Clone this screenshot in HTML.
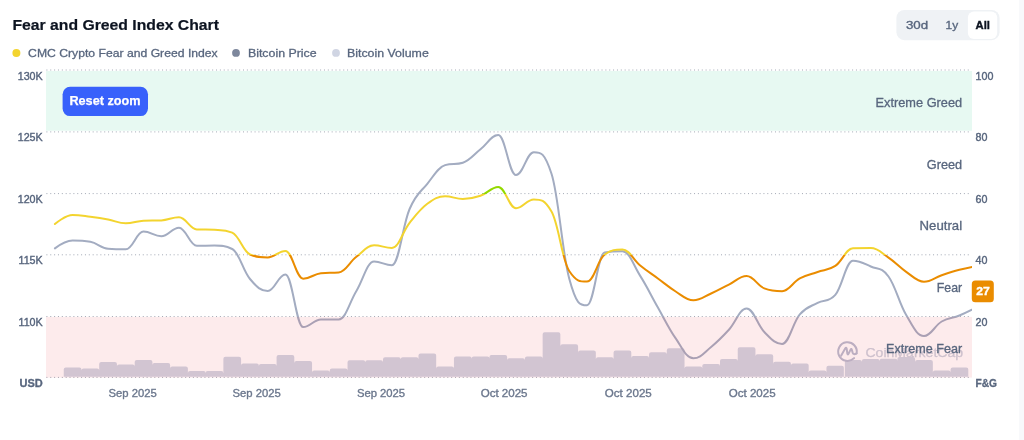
<!DOCTYPE html>
<html><head><meta charset="utf-8"><style>
html,body{margin:0;padding:0;background:#fff;width:1024px;height:440px;overflow:hidden;position:relative;font-family:"Liberation Sans",Arial,sans-serif}
.strip{position:absolute;left:1019px;top:0;width:5px;height:440px;background:#F8F9FB}
</style></head><body>
<svg width="1024" height="440" viewBox="0 0 1024 440" style="position:absolute;left:0;top:0;will-change:transform;font-family:&quot;Liberation Sans&quot;,Arial,sans-serif">
<defs>
<clipPath id="pc"><rect x="46" y="60" width="926" height="318"/></clipPath>
<linearGradient id="fgc" gradientUnits="userSpaceOnUse" x1="0" y1="70" x2="0" y2="377.4">
<stop offset="0" stop-color="#16C784"/>
<stop offset="0.2014" stop-color="#16C784"/>
<stop offset="0.2014" stop-color="#93D900"/>
<stop offset="0.4021" stop-color="#93D900"/>
<stop offset="0.4021" stop-color="#F3D42F"/>
<stop offset="0.6012" stop-color="#F3D42F"/>
<stop offset="0.6012" stop-color="#EA8C00"/>
<stop offset="0.8019" stop-color="#EA8C00"/>
<stop offset="0.8019" stop-color="#EA3943"/>
<stop offset="1" stop-color="#EA3943"/>
</linearGradient>
</defs>
<g stroke="#A3A9B5" stroke-width="1" stroke-dasharray="1 2.855">
<line x1="46.4" x2="970" y1="70.0" y2="70.0"/><line x1="46.4" x2="970" y1="131.9" y2="131.9"/><line x1="46.4" x2="970" y1="193.6" y2="193.6"/><line x1="46.4" x2="970" y1="254.8" y2="254.8"/><line x1="46.4" x2="970" y1="316.5" y2="316.5"/><line x1="46.4" x2="970" y1="377.4" y2="377.4"/>
</g>
<path fill="#D0D5E3" clip-path="url(#pc)" d="M63.73 376.7V369.4q0 -2 2 -2h13.74q2 0 2 2V376.7zM81.47 376.7V370.5q0 -2 2 -2h13.74q2 0 2 2V376.7zM99.20 376.7V364.0q0 -2 2 -2h13.74q2 0 2 2V376.7zM116.94 376.7V366.6q0 -2 2 -2h13.74q2 0 2 2V376.7zM134.68 376.7V362.0q0 -2 2 -2h13.74q2 0 2 2V376.7zM152.41 376.7V364.9q0 -2 2 -2h13.74q2 0 2 2V376.7zM170.15 376.7V368.4q0 -2 2 -2h13.74q2 0 2 2V376.7zM187.89 376.7V373.1q0 -2 2 -2h13.74q2 0 2 2V376.7zM205.62 376.7V373.1q0 -2 2 -2h13.74q2 0 2 2V376.7zM223.36 376.7V358.8q0 -2 2 -2h13.74q2 0 2 2V376.7zM241.10 376.7V365.5q0 -2 2 -2h13.74q2 0 2 2V376.7zM258.84 376.7V366.0q0 -2 2 -2h13.74q2 0 2 2V376.7zM276.57 376.7V357.1q0 -2 2 -2h13.74q2 0 2 2V376.7zM294.31 376.7V363.1q0 -2 2 -2h13.74q2 0 2 2V376.7zM312.05 376.7V372.6q0 -2 2 -2h13.74q2 0 2 2V376.7zM329.78 376.7V370.6q0 -2 2 -2h13.74q2 0 2 2V376.7zM347.52 376.7V362.2q0 -2 2 -2h13.74q2 0 2 2V376.7zM365.26 376.7V362.2q0 -2 2 -2h13.74q2 0 2 2V376.7zM382.99 376.7V359.3q0 -2 2 -2h13.74q2 0 2 2V376.7zM400.73 376.7V359.3q0 -2 2 -2h13.74q2 0 2 2V376.7zM418.47 376.7V355.5q0 -2 2 -2h13.74q2 0 2 2V376.7zM436.21 376.7V368.6q0 -2 2 -2h13.74q2 0 2 2V376.7zM453.94 376.7V358.4q0 -2 2 -2h13.74q2 0 2 2V376.7zM471.68 376.7V358.4q0 -2 2 -2h13.74q2 0 2 2V376.7zM489.42 376.7V357.1q0 -2 2 -2h13.74q2 0 2 2V376.7zM507.15 376.7V360.2q0 -2 2 -2h13.74q2 0 2 2V376.7zM524.89 376.7V358.4q0 -2 2 -2h13.74q2 0 2 2V376.7zM542.63 376.7V334.2q0 -2 2 -2h13.74q2 0 2 2V376.7zM560.36 376.7V346.2q0 -2 2 -2h13.74q2 0 2 2V376.7zM578.10 376.7V352.4q0 -2 2 -2h13.74q2 0 2 2V376.7zM595.84 376.7V359.3q0 -2 2 -2h13.74q2 0 2 2V376.7zM613.58 376.7V352.4q0 -2 2 -2h13.74q2 0 2 2V376.7zM631.31 376.7V358.0q0 -2 2 -2h13.74q2 0 2 2V376.7zM649.05 376.7V354.2q0 -2 2 -2h13.74q2 0 2 2V376.7zM666.79 376.7V350.3q0 -2 2 -2h13.74q2 0 2 2V376.7zM684.52 376.7V368.4q0 -2 2 -2h13.74q2 0 2 2V376.7zM702.26 376.7V366.0q0 -2 2 -2h13.74q2 0 2 2V376.7zM720.00 376.7V361.1q0 -2 2 -2h13.74q2 0 2 2V376.7zM737.73 376.7V349.3q0 -2 2 -2h13.74q2 0 2 2V376.7zM755.47 376.7V356.2q0 -2 2 -2h13.74q2 0 2 2V376.7zM773.21 376.7V363.7q0 -2 2 -2h13.74q2 0 2 2V376.7zM790.95 376.7V365.5q0 -2 2 -2h13.74q2 0 2 2V376.7zM808.68 376.7V372.4q0 -2 2 -2h13.74q2 0 2 2V376.7zM826.42 376.7V367.8q0 -2 2 -2h13.44q2 0 2 2V376.7zM844.86 376.7V361.9q0 -2 2 -2h13.04q2 0 2 2V376.7zM861.89 376.7V361.1q0 -2 2 -2h13.74q2 0 2 2V376.7zM879.63 376.7V360.7q0 -2 2 -2h13.74q2 0 2 2V376.7zM897.37 376.7V359.0q0 -2 2 -2h13.74q2 0 2 2V376.7zM915.10 376.7V361.9q0 -2 2 -2h13.74q2 0 2 2V376.7zM932.84 376.7V372.6q0 -2 2 -2h13.74q2 0 2 2V376.7zM950.58 376.7V369.4q0 -2 2 -2h13.74q2 0 2 2V376.7z"/>
<g clip-path="url(#pc)" fill="none" stroke-width="2" stroke-linejoin="round" stroke-linecap="round">
<path d="M54.9 248.4 C54.9 248.4 65.5 240.6 72.6 240.6 C79.7 240.6 83.2 240.6 90.3 241.8 C97.4 243.0 101.0 248.1 108.1 248.7 C115.2 249.3 118.7 249.3 125.8 249.3 C132.9 249.3 136.5 231.6 143.5 231.6 C150.6 231.6 154.2 236.3 161.3 236.3 C168.4 236.3 171.9 227.7 179.0 227.7 C186.1 227.7 189.7 245.8 196.8 245.8 C203.9 245.8 207.4 245.6 214.5 245.6 C221.6 245.6 225.1 245.6 232.2 249.0 C239.3 252.4 242.9 270.6 250.0 279.0 C257.1 287.4 260.6 291.0 267.7 291.0 C274.8 291.0 278.3 274.5 285.4 274.5 C292.5 274.5 296.1 327.1 303.2 327.1 C310.3 327.1 313.8 319.5 320.9 319.5 C328.0 319.5 331.6 319.5 338.7 319.5 C345.7 319.5 349.3 302.6 356.4 291.0 C363.5 279.4 367.0 261.6 374.1 261.6 C381.2 261.6 384.8 265.2 391.9 265.2 C399.0 265.2 402.5 225.3 409.6 209.0 C416.7 192.7 420.2 192.6 427.3 183.8 C434.4 175.0 438.0 167.5 445.1 165.1 C452.2 162.7 455.7 165.1 462.8 162.7 C469.9 160.3 473.5 154.7 480.5 149.2 C487.6 143.7 491.2 135.0 498.3 135.0 C505.4 135.0 508.9 175.1 516.0 175.1 C523.1 175.1 526.7 152.2 533.8 152.2 C540.9 152.2 544.4 152.2 551.5 173.7 C558.6 195.2 562.1 252.2 569.2 278.5 C576.3 304.8 579.9 305.3 587.0 305.3 C594.1 305.3 597.6 253.7 604.7 252.5 C611.8 251.3 615.3 251.3 622.4 251.3 C629.5 251.3 633.1 264.7 640.2 275.9 C647.3 287.1 650.8 295.0 657.9 307.5 C665.0 320.0 668.6 328.2 675.7 338.4 C682.7 348.6 686.3 358.3 693.4 358.3 C700.5 358.3 704.0 352.7 711.1 347.0 C718.2 341.3 721.8 337.5 728.9 329.8 C736.0 322.1 739.5 308.5 746.6 308.5 C753.7 308.5 757.2 324.9 764.3 332.0 C771.4 339.1 775.0 343.9 782.1 343.9 C789.2 343.9 792.7 322.6 799.8 314.4 C806.9 306.2 810.5 306.8 817.6 302.9 C824.6 299.0 828.2 302.9 835.3 294.9 C842.4 286.9 845.9 260.7 853.0 260.7 C860.1 260.7 863.7 263.3 870.8 266.5 C877.9 269.7 881.4 266.8 888.5 276.5 C895.6 286.2 899.1 303.2 906.2 315.1 C913.3 327.0 916.9 336.0 924.0 336.0 C931.1 336.0 934.6 325.6 941.7 321.5 C948.8 317.4 952.4 318.4 959.4 315.5 C966.5 312.6 977.2 307.0 977.2 307.0" stroke="#A3ACC1"/>
<path d="M54.9 224.0 C54.9 224.0 65.5 215.0 72.6 215.0 C79.7 215.0 83.2 215.9 90.3 216.8 C97.4 217.7 101.0 218.2 108.1 219.5 C115.2 220.8 118.7 223.3 125.8 223.3 C132.9 223.3 136.5 221.0 143.5 220.7 C150.6 220.4 154.2 220.7 161.3 220.4 C168.4 220.1 171.9 217.3 179.0 217.3 C186.1 217.3 189.7 229.0 196.8 229.4 C203.9 229.8 207.4 229.4 214.5 229.8 C221.6 230.2 225.1 229.8 232.2 232.6 C239.3 235.4 242.9 251.6 250.0 254.5 C257.1 257.4 260.6 257.4 267.7 257.4 C274.8 257.4 278.3 251.0 285.4 251.0 C292.5 251.0 296.1 278.7 303.2 278.7 C310.3 278.7 313.8 273.9 320.9 273.2 C328.0 272.5 331.6 273.2 338.7 272.5 C345.7 271.8 349.3 262.2 356.4 256.8 C363.5 251.4 367.0 245.3 374.1 245.3 C381.2 245.3 384.8 247.9 391.9 247.9 C399.0 247.9 402.5 231.6 409.6 222.8 C416.7 214.0 420.2 209.1 427.3 203.8 C434.4 198.5 438.0 196.3 445.1 196.3 C452.2 196.3 455.7 199.0 462.8 199.0 C469.9 199.0 473.5 198.2 480.5 195.8 C487.6 193.4 491.2 186.9 498.3 186.9 C505.4 186.9 508.9 208.2 516.0 208.2 C523.1 208.2 526.7 199.4 533.8 199.4 C540.9 199.4 544.4 199.4 551.5 211.5 C558.6 223.6 562.1 260.4 569.2 271.0 C576.3 281.6 579.9 281.6 587.0 281.6 C594.1 281.6 597.6 259.5 604.7 254.5 C611.8 249.5 615.3 249.5 622.4 249.5 C629.5 249.5 633.1 259.7 640.2 265.5 C647.3 271.3 650.8 273.3 657.9 278.5 C665.0 283.7 668.6 287.1 675.7 291.5 C682.7 295.9 686.3 300.3 693.4 300.3 C700.5 300.3 704.0 296.6 711.1 293.5 C718.2 290.4 721.8 288.1 728.9 284.6 C736.0 281.1 739.5 276.0 746.6 276.0 C753.7 276.0 757.2 285.6 764.3 288.4 C771.4 291.2 775.0 291.2 782.1 291.2 C789.2 291.2 792.7 282.2 799.8 278.4 C806.9 274.6 810.5 274.5 817.6 272.0 C824.6 269.5 828.2 270.6 835.3 265.9 C842.4 261.2 845.9 248.5 853.0 248.3 C860.1 248.1 863.7 248.1 870.8 248.1 C877.9 248.1 881.4 252.9 888.5 257.6 C895.6 262.3 899.1 267.0 906.2 271.8 C913.3 276.6 916.9 281.8 924.0 281.8 C931.1 281.8 934.6 277.6 941.7 275.2 C948.8 272.8 952.4 271.6 959.4 269.8 C966.5 268.0 977.2 266.0 977.2 266.0" stroke="url(#fgc)"/>
</g>
<rect x="46" y="71" width="926" height="59.8" fill="#16C784" fill-opacity="0.1"/>
<rect x="46" y="316.9" width="926" height="60.7" fill="#EA3943" fill-opacity="0.1"/>
<text x="42.7" y="80.2" font-size="10.7" text-anchor="end" fill="#58667E" font-weight="normal" stroke="#58667E" stroke-width="0.4">130K</text>
<text x="42.7" y="141.1" font-size="10.7" text-anchor="end" fill="#58667E" font-weight="normal" stroke="#58667E" stroke-width="0.4">125K</text>
<text x="42.7" y="202.9" font-size="10.7" text-anchor="end" fill="#58667E" font-weight="normal" stroke="#58667E" stroke-width="0.4">120K</text>
<text x="42.7" y="263.9" font-size="10.7" text-anchor="end" fill="#58667E" font-weight="normal" stroke="#58667E" stroke-width="0.4">115K</text>
<text x="42.7" y="325.9" font-size="10.7" text-anchor="end" fill="#58667E" font-weight="normal" stroke="#58667E" stroke-width="0.4">110K</text>
<text x="42.8" y="386.7" font-size="11" text-anchor="end" fill="#58667E" font-weight="bold" stroke="#58667E" stroke-width="0.3">USD</text>
<text x="975.6" y="80.2" font-size="10.7" text-anchor="start" fill="#58667E" font-weight="normal" stroke="#58667E" stroke-width="0.4">100</text>
<text x="975.6" y="141.1" font-size="10.7" text-anchor="start" fill="#58667E" font-weight="normal" stroke="#58667E" stroke-width="0.4">80</text>
<text x="975.6" y="202.9" font-size="10.7" text-anchor="start" fill="#58667E" font-weight="normal" stroke="#58667E" stroke-width="0.4">60</text>
<text x="975.6" y="263.9" font-size="10.7" text-anchor="start" fill="#58667E" font-weight="normal" stroke="#58667E" stroke-width="0.4">40</text>
<text x="975.6" y="325.9" font-size="10.7" text-anchor="start" fill="#58667E" font-weight="normal" stroke="#58667E" stroke-width="0.4">20</text>
<text x="975.4" y="386.8" font-size="11" text-anchor="start" fill="#58667E" font-weight="bold" textLength="21.6" lengthAdjust="spacingAndGlyphs" stroke="#58667E" stroke-width="0.3">F&amp;G</text>
<g fill="none" stroke="#BCAEC1" stroke-width="2" stroke-linecap="round" stroke-linejoin="round"><path d="M854.1 358.1 A9.3 9.3 0 1 1 856.6 353.4"/><path d="M841.2 355.6 L845.2 348.6 Q846.2 346.8 846.7 348.8 L847.4 353.8 Q847.8 355.2 848.6 353.6 L850.6 349.6 Q851.4 348.2 851.9 350 L852.6 352.6 Q853.6 355.2 856.6 353.4"/></g>
<text x="865.4" y="356.7" font-size="12.4" text-anchor="start" fill="#CEC1CD" font-weight="normal" textLength="97.8" lengthAdjust="spacingAndGlyphs" stroke="#CEC1CD" stroke-width="0.25">CoinMarketCap</text>
<text x="962.1" y="107" font-size="12.2" text-anchor="end" fill="#58667E" font-weight="normal" textLength="86.5" lengthAdjust="spacingAndGlyphs" stroke="#58667E" stroke-width="0.3">Extreme Greed</text>
<text x="962.1" y="168.9" font-size="12.2" text-anchor="end" fill="#58667E" font-weight="normal" textLength="35.3" lengthAdjust="spacingAndGlyphs" stroke="#58667E" stroke-width="0.3">Greed</text>
<text x="962.1" y="230.4" font-size="12.2" text-anchor="end" fill="#58667E" font-weight="normal" textLength="42.5" lengthAdjust="spacingAndGlyphs" stroke="#58667E" stroke-width="0.3">Neutral</text>
<text x="962.1" y="292" font-size="12.2" text-anchor="end" fill="#58667E" font-weight="normal" textLength="25.3" lengthAdjust="spacingAndGlyphs" stroke="#58667E" stroke-width="0.3">Fear</text>
<text x="962.1" y="352.5" font-size="12.2" text-anchor="end" fill="#58667E" font-weight="normal" textLength="76.1" lengthAdjust="spacingAndGlyphs" stroke="#58667E" stroke-width="0.3">Extreme Fear</text>
<text x="132.7" y="396.6" font-size="11" text-anchor="middle" fill="#6B778D" font-weight="normal" textLength="48.2" lengthAdjust="spacingAndGlyphs" stroke="#6B778D" stroke-width="0.35">Sep 2025</text>
<text x="256.7" y="396.6" font-size="11" text-anchor="middle" fill="#6B778D" font-weight="normal" textLength="48.2" lengthAdjust="spacingAndGlyphs" stroke="#6B778D" stroke-width="0.35">Sep 2025</text>
<text x="381" y="396.6" font-size="11" text-anchor="middle" fill="#6B778D" font-weight="normal" textLength="48.2" lengthAdjust="spacingAndGlyphs" stroke="#6B778D" stroke-width="0.35">Sep 2025</text>
<text x="504.1" y="396.6" font-size="11" text-anchor="middle" fill="#6B778D" font-weight="normal" textLength="46.9" lengthAdjust="spacingAndGlyphs" stroke="#6B778D" stroke-width="0.35">Oct 2025</text>
<text x="628.3" y="396.6" font-size="11" text-anchor="middle" fill="#6B778D" font-weight="normal" textLength="46.9" lengthAdjust="spacingAndGlyphs" stroke="#6B778D" stroke-width="0.35">Oct 2025</text>
<text x="752.2" y="396.6" font-size="11" text-anchor="middle" fill="#6B778D" font-weight="normal" textLength="46.9" lengthAdjust="spacingAndGlyphs" stroke="#6B778D" stroke-width="0.35">Oct 2025</text>
<text x="12.4" y="29.8" font-size="15.4" text-anchor="start" fill="#0D1421" font-weight="bold" textLength="206.6" lengthAdjust="spacingAndGlyphs" stroke="#0D1421" stroke-width="0.2">Fear and Greed Index Chart</text>
<circle cx="16.4" cy="53" r="4" fill="#F3D42F"/>
<text x="28.1" y="56.6" font-size="11.6" text-anchor="start" fill="#58667E" font-weight="normal" textLength="189.6" lengthAdjust="spacingAndGlyphs" stroke="#58667E" stroke-width="0.3">CMC Crypto Fear and Greed Index</text>
<circle cx="236" cy="52.9" r="3.9" fill="#7D879C"/>
<text x="247.9" y="56.6" font-size="11.6" text-anchor="start" fill="#58667E" font-weight="normal" textLength="68.8" lengthAdjust="spacingAndGlyphs" stroke="#58667E" stroke-width="0.3">Bitcoin Price</text>
<circle cx="336" cy="52.9" r="3.9" fill="#D0D5E3"/>
<text x="347.0" y="56.6" font-size="11.6" text-anchor="start" fill="#58667E" font-weight="normal" textLength="81.8" lengthAdjust="spacingAndGlyphs" stroke="#58667E" stroke-width="0.3">Bitcoin Volume</text>
<rect x="62.6" y="86.8" width="85.4" height="29.3" rx="7.5" fill="#3861FB"/>
<text x="69.4" y="105.2" font-size="12.4" text-anchor="start" fill="#FFFFFF" font-weight="bold" textLength="71.2" lengthAdjust="spacingAndGlyphs" stroke="#FFFFFF" stroke-width="0.25">Reset zoom</text>
<rect x="896.4" y="9.9" width="103.2" height="30.3" rx="8" fill="#EFF2F5"/>
<rect x="967.9" y="11.4" width="29.3" height="27.6" rx="6" fill="#FFFFFF"/>
<text x="905.9" y="29" font-size="11.6" text-anchor="start" fill="#58667E" font-weight="normal" textLength="22.2" lengthAdjust="spacingAndGlyphs" stroke="#58667E" stroke-width="0.35">30d</text>
<text x="945.6" y="29" font-size="11.6" text-anchor="start" fill="#58667E" font-weight="normal" textLength="12.6" lengthAdjust="spacingAndGlyphs" stroke="#58667E" stroke-width="0.35">1y</text>
<text x="975.6" y="29" font-size="11.6" text-anchor="start" fill="#0D1421" font-weight="bold" textLength="14.4" lengthAdjust="spacingAndGlyphs" stroke="#0D1421" stroke-width="0.4">All</text>
<rect x="971.8" y="280.5" width="22" height="21.8" rx="3.5" fill="#EA8C00"/>
<text x="983.1" y="294.7" font-size="11" text-anchor="middle" fill="#FFFFFF" font-weight="bold" textLength="13.6" lengthAdjust="spacingAndGlyphs" stroke="#FFFFFF" stroke-width="0.35">27</text>
</svg>
<div class="strip"></div>
</body></html>
